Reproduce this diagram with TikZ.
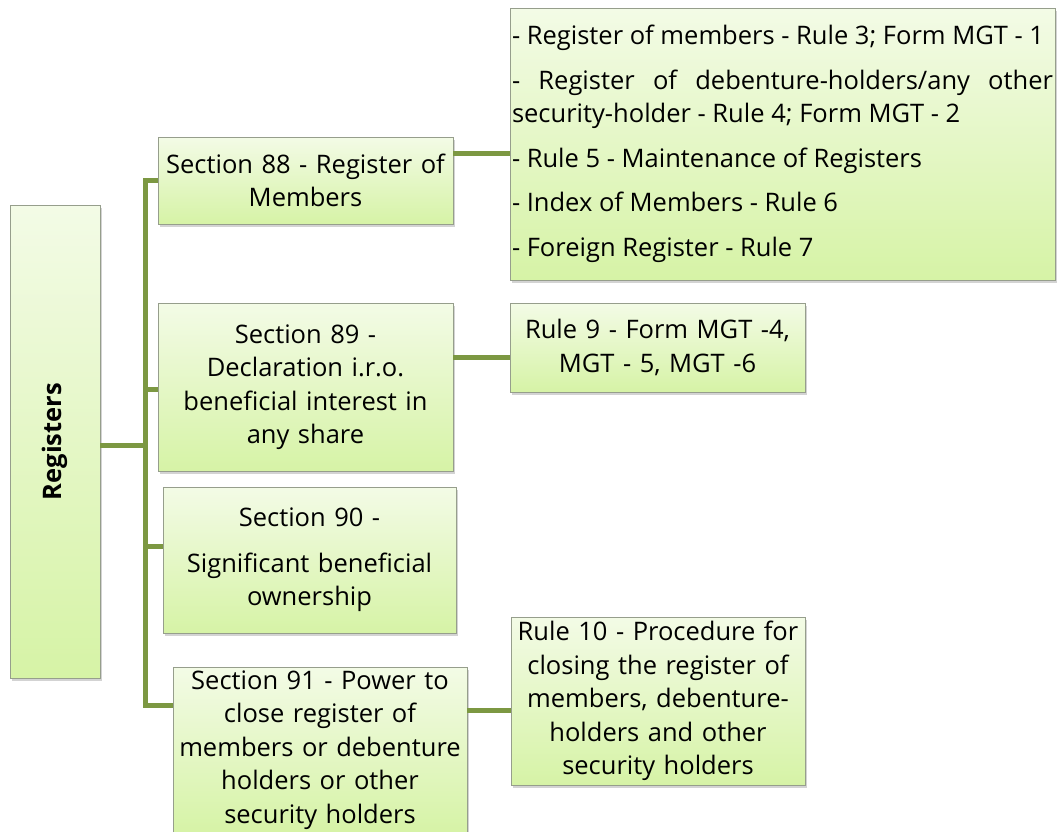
\documentclass[tikz,border=0pt]{standalone}
\usepackage{fontspec}
\setmainfont{Open Sans}
\usepackage{graphicx}
\usetikzlibrary{shadows}
\definecolor{boxtop}{RGB}{243,251,230}
\definecolor{boxbot}{RGB}{214,243,166}
\definecolor{boxline}{RGB}{150,158,140}
\definecolor{linkgreen}{RGB}{124,152,66}
\begin{document}
\begin{tikzpicture}[x=1pt,y=-1pt,line join=miter,
  box/.style={draw=boxline,line width=0.8pt,top color=boxtop,bottom color=boxbot,
    inner sep=2pt,align=center,
    font=\fontsize{25.5}{33.5}\selectfont,
    drop shadow={opacity=0.35,shadow xshift=2pt,shadow yshift=-3pt}},
  link/.style={draw=linkgreen,line width=5pt}]
\path[use as bounding box,clip](0,0)rectangle(1057,831);

    \node[box,minimum width=90pt,minimum height=473pt] (reg) at (55,441.5)
      {\rotatebox{90}{\bfseries Registers}};

    \node[box,text width=291pt,minimum height=87pt]  (s88) at (305.5,180.5)
      {Section 88 - Register of\\Members};
    \node[box,text width=291pt,minimum height=168pt] (s89) at (305.5,387)
      {Section 89 -\\Declaration i.r.o.\\beneficial interest in\\any share};
    \node[box,text width=289pt,minimum height=146pt] (s90) at (309.5,560)
      {Section 90 -\\[12pt]Significant beneficial\\ownership};
    \node[box,text width=290pt,minimum height=166pt] (s91) at (320,750)
      {Section 91 - Power to\\close register of\\members or debenture\\holders or other\\security holders};

    \node[box,align=justify,text width=541pt,minimum height=272pt] (rlist) at (782.5,144)
      {- Register of members - Rule 3; Form MGT - 1\\[11pt]
       - Register of debenture-holders/any other\linebreak security-holder - Rule 4; Form MGT - 2\\[11pt]
       - Rule 5 - Maintenance of Registers\\[11pt]
       - Index of Members - Rule 6\\[11pt]
       - Foreign Register - Rule 7};
    \node[box,text width=291pt,minimum height=89pt]  (r9)  at (657.5,347.5)
      {Rule 9 - Form MGT -4,\\MGT - 5, MGT -6};
    \node[box,text width=290pt,minimum height=168pt] (r10) at (658,701)
      {Rule 10 - Procedure for\\closing the register of\\members, debenture-\\holders and other\\security holders};

    \coordinate (tbot) at (145,705);
    \draw[link] (s88.west) -| (tbot) -- ([yshift=45pt]s91.west);
    \draw[link] ([yshift=-3.5pt]reg.east) -- ([yshift=-3.5pt]reg.east -| tbot);
    \draw[link] ([yshift=-2pt]s89.west) -- ([yshift=-2pt]s89.west -| tbot);
    \draw[link] ([yshift=14pt]s90.west) -- ([yshift=14pt]s90.west -| tbot);

    \draw[link] ([yshift=27pt]s88.east) -- ([yshift=27pt]s88.east -| rlist.west);
    \draw[link] ([yshift=30pt]s89.east) -- ([yshift=30pt]s89.east -| r9.west);
    \draw[link] ([yshift=40pt]s91.east) -- ([yshift=40pt]s91.east -| r10.west);
  \end{tikzpicture}
\end{document}
